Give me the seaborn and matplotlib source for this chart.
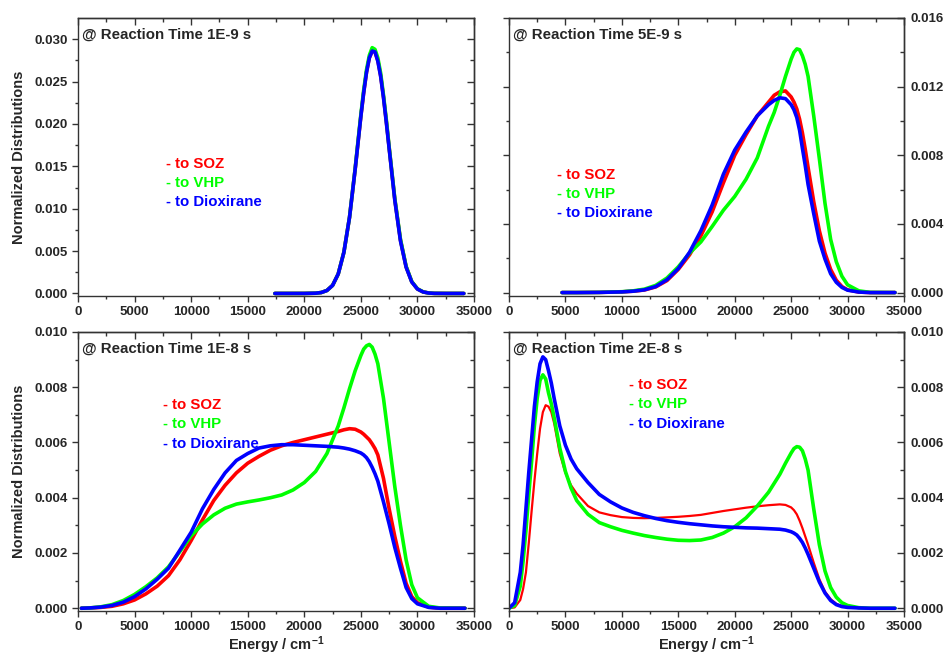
import numpy as np
import pandas as pd
import matplotlib
matplotlib.use("Agg")
import matplotlib.pyplot as plt
from matplotlib.ticker import MultipleLocator, FormatStrFormatter, FixedLocator
import seaborn as sns

# ---- data (y in units of 1e-3) ----
# 1E-9 s
x_1e9 = [17400, 19000, 20000, 21000, 21500, 22000, 22500, 23000, 23500, 24000, 24500, 24750,
         25000, 25250, 25500, 25750, 26000, 26250, 26500, 26750, 27000, 27250, 27500, 28000,
         28500, 29000, 29500, 30000, 30500, 31000, 31500, 32500, 34100]
soz_1e9 = [0, 0, 0.002, 0.03, 0.11, 0.35, 0.95, 2.3, 4.86, 9.0, 14.7, 17.8,
           20.9, 23.7, 26.1, 27.8, 28.6, 28.5, 27.5, 25.7, 23.2, 20.3, 17.2, 11.1,
           6.3, 3.15, 1.38, 0.53, 0.18, 0.05, 0.01, 0, 0]
vhp_1e9 = [0, 0, 0.002, 0.03, 0.11, 0.35, 0.95, 2.3, 4.86, 9.0, 14.8, 18.0,
           21.1, 24.0, 26.4, 28.1, 29.0, 28.8, 27.8, 26.0, 23.4, 20.5, 17.3, 11.2,
           6.4, 3.2, 1.4, 0.55, 0.19, 0.05, 0.01, 0, 0]
dio_1e9 = [0, 0, 0.002, 0.03, 0.11, 0.35, 0.95, 2.3, 4.86, 9.0, 14.7, 17.8,
           20.9, 23.7, 26.1, 27.8, 28.6, 28.5, 27.4, 25.6, 23.1, 20.2, 17.1, 11.0,
           6.2, 3.1, 1.35, 0.52, 0.18, 0.05, 0.01, 0, 0]

# 5E-9 s
x_5e9 = [4700, 6000, 8000, 10000, 11000, 12000, 13000, 14000, 15000, 16000, 17000, 18000,
         19000, 20000, 21000, 22000, 23000, 23500, 24000, 24500, 25000, 25250, 25500, 25750,
         26000, 26250, 26500, 27000, 27500, 28000, 28500, 29000, 29500, 30000, 31000, 32000,
         34200]
soz_5e9 = [0, 0, 0.01, 0.04, 0.08, 0.15, 0.33, 0.7, 1.35, 2.2, 3.3, 4.7,
           6.4, 8.0, 9.2, 10.3, 11.1, 11.5, 11.7, 11.75, 11.4, 11.1, 10.7, 10.1,
           9.3, 8.35, 7.3, 5.3, 3.6, 2.3, 1.35, 0.72, 0.35, 0.16, 0.03, 0,
           0]
vhp_5e9 = [0, 0, 0.01, 0.05, 0.1, 0.2, 0.42, 0.85, 1.5, 2.3, 2.95, 3.85,
           4.8, 5.6, 6.6, 7.85, 9.7, 10.5, 11.5, 12.6, 13.6, 14.0, 14.2, 14.15,
           13.8, 13.3, 12.6, 10.3, 7.8, 5.2, 3.1, 1.8, 0.95, 0.45, 0.1, 0.01,
           0]
dio_5e9 = [0, 0, 0.01, 0.04, 0.08, 0.16, 0.35, 0.75, 1.4, 2.35, 3.6, 5.1,
           6.9, 8.3, 9.35, 10.3, 10.95, 11.2, 11.35, 11.3, 10.95, 10.65, 10.2, 9.45,
           8.4, 7.4, 6.3, 4.6, 3.0, 1.95, 1.1, 0.6, 0.3, 0.14, 0.03, 0,
           0]

# 1E-8 s
x_1e8 = [300, 1000, 2000, 3000, 4000, 5000, 6000, 7000, 8000, 9000, 10000, 11000,
         12000, 13000, 14000, 15000, 16000, 17000, 18000, 19000, 20000, 21000, 22000, 23000,
         23500, 24000, 24500, 25000, 25250, 25500, 25750, 26000, 26250, 26500, 27000, 27500,
         28000, 28500, 29000, 29500, 30000, 31000, 32000, 34200]
soz_1e8 = [0, 0.01, 0.03, 0.07, 0.16, 0.3, 0.52, 0.8, 1.18, 1.75, 2.45, 3.2,
           3.9, 4.45, 4.9, 5.25, 5.5, 5.72, 5.88, 6.0, 6.1, 6.2, 6.3, 6.4,
           6.46, 6.5, 6.48, 6.38, 6.3, 6.2, 6.1, 5.95, 5.78, 5.55, 4.7, 3.6,
           2.6, 1.7, 0.9, 0.42, 0.2, 0.04, 0, 0]
vhp_1e8 = [0, 0.01, 0.05, 0.13, 0.28, 0.5, 0.78, 1.1, 1.5, 2.05, 2.62, 3.05,
           3.38, 3.62, 3.77, 3.85, 3.92, 4.0, 4.1, 4.28, 4.55, 4.95, 5.6, 6.6,
           7.25, 7.95, 8.6, 9.15, 9.38, 9.5, 9.55, 9.45, 9.2, 8.85, 7.6, 6.0,
           4.4, 3.0, 1.75, 0.85, 0.38, 0.07, 0.01, 0]
dio_1e8 = [0, 0.01, 0.04, 0.1, 0.22, 0.42, 0.7, 1.05, 1.45, 2.1, 2.75, 3.6,
           4.3, 4.9, 5.35, 5.6, 5.8, 5.88, 5.92, 5.92, 5.9, 5.88, 5.86, 5.83,
           5.8, 5.76, 5.7, 5.62, 5.55, 5.45, 5.3, 5.1, 4.87, 4.6, 3.85, 3.05,
           2.2, 1.45, 0.75, 0.35, 0.16, 0.03, 0, 0]

# 2E-8 s
x_2e8 = [0, 500, 1000, 1250, 1500, 1750, 2000, 2250, 2500, 2750, 3000, 3250,
         3500, 3750, 4000, 4500, 5000, 5500, 6000, 7000, 8000, 9000, 10000, 11000,
         12000, 13000, 14000, 15000, 16000, 17000, 18000, 19000, 20000, 21000, 22000, 23000,
         24000, 24500, 25000, 25250, 25500, 25750, 26000, 26250, 26500, 27000, 27500, 28000,
         28500, 29000, 29500, 30000, 31000, 32000, 34200]
soz_2e8 = [0, 0.03, 0.3, 0.7, 1.3, 2.35, 3.5, 4.6, 5.6, 6.5, 7.1, 7.35,
           7.3, 7.1, 6.7, 5.6, 4.9, 4.45, 4.15, 3.7, 3.47, 3.37, 3.3, 3.27,
           3.26, 3.27, 3.29, 3.31, 3.34, 3.38, 3.45, 3.52, 3.58, 3.64, 3.69, 3.73,
           3.76, 3.74, 3.65, 3.55, 3.4, 3.17, 2.9, 2.6, 2.3, 1.65, 1.05, 0.6,
           0.33, 0.16, 0.08, 0.03, 0.01, 0, 0]
vhp_2e8 = [0, 0.1, 0.8, 1.7, 2.8, 4.1, 5.3, 6.6, 7.6, 8.25, 8.45, 8.3,
           7.8, 7.4, 6.9, 5.8, 4.95, 4.35, 3.9, 3.4, 3.1, 2.95, 2.82, 2.72,
           2.63, 2.56, 2.5, 2.46, 2.45, 2.47, 2.56, 2.72, 2.95, 3.27, 3.7, 4.2,
           4.85, 5.25, 5.62, 5.78, 5.85, 5.83, 5.7, 5.4, 5.0, 3.6, 2.3, 1.35,
           0.75, 0.4, 0.2, 0.1, 0.02, 0, 0]
dio_2e8 = [0, 0.2, 1.3, 2.3, 3.6, 4.9, 6.1, 7.3, 8.2, 8.85, 9.1, 9.0,
           8.6, 8.15, 7.6, 6.6, 5.9, 5.4, 5.05, 4.55, 4.12, 3.85, 3.63, 3.47,
           3.35, 3.25, 3.17, 3.11, 3.06, 3.02, 2.98, 2.95, 2.93, 2.91, 2.9, 2.88,
           2.86, 2.83, 2.77, 2.72, 2.65, 2.53, 2.38, 2.18, 1.95, 1.45, 0.95, 0.55,
           0.28, 0.13, 0.06, 0.03, 0.01, 0, 0]

times = ["1E-9", "5E-9", "1E-8", "2E-8"]
series_names = ["- to SOZ", "- to VHP", "- to Dioxirane"]
colors = ["#ff0000", "#00ff00", "#0000ff"]
x_ticks = [0, 5000, 10000, 15000, 20000, 25000, 30000, 35000]

sns.set_style("ticks")
plt.rcParams["font.family"] = ["Liberation Sans", "DejaVu Sans"]
plt.rcParams["font.weight"] = "bold"
plt.rcParams["mathtext.fontset"] = "custom"
plt.rcParams["mathtext.bf"] = "Liberation Sans:bold"
plt.rcParams["mathtext.rm"] = "Liberation Sans:bold"
plt.rcParams["mathtext.default"] = "bf"

W, H = 947, 655
fig = plt.figure(figsize=(W / 100, H / 100), dpi=100)
spine_col = "#333333"


def rect(x0, y0, x1, y1):
    return [x0 / W, 1 - y1 / H, (x1 - x0) / W, (y1 - y0) / H]


panels = [
    dict(rect=rect(78, 18, 474, 296), x=x_1e9, ys=[soz_1e9, vhp_1e9, dio_1e9],
         ylim=(-0.0003, 0.0325), ytop=0.030, major=0.005, right=False, bottom=False,
         lab=(0.222, 0.475), lw=[2.6, 2.6, 2.6]),
    dict(rect=rect(509, 18, 904, 296), x=x_5e9, ys=[soz_5e9, vhp_5e9, dio_5e9],
         ylim=(-0.0002, 0.016), ytop=0.016, major=0.004, right=True, bottom=False,
         lab=(0.121, 0.435), lw=[2.6, 2.6, 2.6]),
    dict(rect=rect(78, 332, 474, 611), x=x_1e8, ys=[soz_1e8, vhp_1e8, dio_1e8],
         ylim=(-0.0001, 0.010), ytop=0.010, major=0.002, right=False, bottom=True,
         lab=(0.215, 0.738), lw=[2.6, 2.6, 2.6]),
    dict(rect=rect(509, 332, 904, 611), x=x_2e8, ys=[soz_2e8, vhp_2e8, dio_2e8],
         ylim=(-0.0001, 0.010), ytop=0.010, major=0.002, right=True, bottom=True,
         lab=(0.304, 0.81), lw=[1.6, 2.6, 2.6]),
]

for t, p in zip(times, panels):
    ax = fig.add_axes(p["rect"])
    for name, ys, c, lw in zip(series_names, p["ys"], colors, p["lw"]):
        df = pd.DataFrame({"x": p["x"], "y": np.array(ys) * 1e-3})
        sns.lineplot(data=df, x="x", y="y", color=c, linewidth=lw, ax=ax,
                     sort=False, estimator=None, solid_joinstyle="round",
                     solid_capstyle="round")
    ax.set_xlim(0, 35000)
    ax.set_ylim(*p["ylim"])

    n_maj = int(round(p["ytop"] / p["major"]))
    y_major = [k * p["major"] for k in range(n_maj + 1)]
    y_minor = [(k + 0.5) * p["major"] for k in range(n_maj)]
    x_minor = [v + 2500 for v in x_ticks[:-1]]

    # main axes: bottom + left, ticks outward
    ax.xaxis.set_major_locator(FixedLocator(x_ticks))
    ax.xaxis.set_minor_locator(FixedLocator(x_minor))
    ax.yaxis.set_major_locator(FixedLocator(y_major))
    ax.yaxis.set_minor_locator(FixedLocator(y_minor))
    ax.yaxis.set_major_formatter(FormatStrFormatter("%.3f"))
    ax.tick_params(axis="both", which="both", direction="out", width=1, color=spine_col,
                   labelsize=9.5, top=False, right=False)
    ax.tick_params(which="major", length=4)
    ax.tick_params(which="minor", length=2.5)

    # mirrored top and right axes, ticks inward
    top = ax.secondary_xaxis("top")
    top.xaxis.set_major_locator(FixedLocator(x_ticks))
    top.xaxis.set_minor_locator(FixedLocator(x_minor))
    top.tick_params(which="both", direction="in", width=1, color=spine_col, labeltop=False)
    top.tick_params(which="major", length=5)
    top.tick_params(which="minor", length=3)
    rgt = ax.secondary_yaxis("right")
    rgt.yaxis.set_major_locator(FixedLocator(y_major))
    rgt.yaxis.set_minor_locator(FixedLocator(y_minor))
    rgt.yaxis.set_major_formatter(FormatStrFormatter("%.3f"))
    rgt.tick_params(which="both", direction="in", width=1, color=spine_col,
                    labelsize=9.5, labelright=p["right"], pad=5)
    rgt.tick_params(which="major", length=5)
    rgt.tick_params(which="minor", length=3)
    if p["right"]:
        ax.tick_params(axis="y", labelleft=False)
    for sec in (top, rgt):
        for s in sec.spines.values():
            s.set_linewidth(1.0)
            s.set_color(spine_col)

    for lbl in (ax.get_xticklabels() + ax.get_yticklabels() + rgt.get_yticklabels()):
        lbl.set_fontweight("bold")
    for s in ax.spines.values():
        s.set_linewidth(1.0)
        s.set_color(spine_col)
    ax.set_xlabel("Energy / cm$^{-1}$" if p["bottom"] else "", fontsize=10.5,
                  fontweight="bold", labelpad=1)
    ax.set_ylabel("" if p["right"] else "Normalized Distributions", fontsize=10.5,
                  fontweight="bold", labelpad=6)
    ax.text(0.01, 0.94, "@ Reaction Time " + t + " s", transform=ax.transAxes,
            fontsize=10.8, fontweight="bold", va="center", ha="left")
    lx, ly = p["lab"]
    for i, (name, c) in enumerate(zip(series_names, colors)):
        ax.text(lx, ly - i * 0.069, name, color=c, transform=ax.transAxes,
                fontsize=10.8, fontweight="bold", va="center", ha="left")

fig.savefig("out.png", dpi=100)
